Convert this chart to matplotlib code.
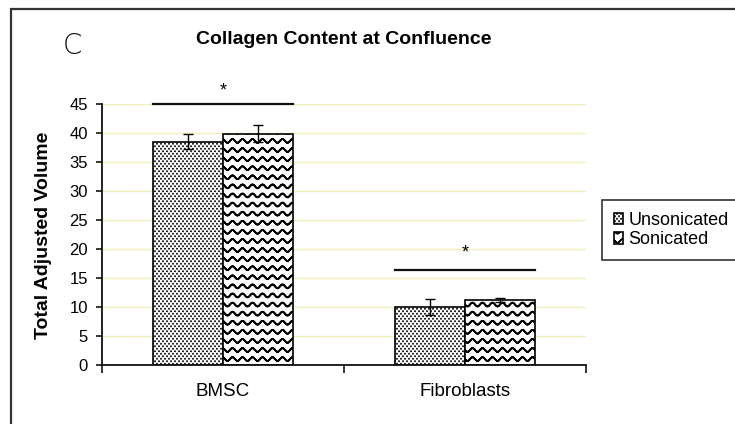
import warnings
import numpy as np
import matplotlib
matplotlib.use('Agg')
import matplotlib.pyplot as plt
import matplotlib.hatch as mhatch
from matplotlib.path import Path
from matplotlib.patches import Rectangle

warnings.filterwarnings('ignore')

# ---------------- data ----------------
categories = ['BMSC', 'Fibroblasts']
series_names = ['Unsonicated', 'Sonicated']
unsonicated = [38.5, 10.0]
unsonicated_err = [1.3, 1.3]
sonicated = [39.9, 11.2]
sonicated_err = [1.4, 0.4]
sig_levels = [45.0, 16.4]
sig_marks = ['*', '*']
yticks = [0, 5, 10, 15, 20, 25, 30, 35, 40, 45]
title = 'Collagen Content at Confluence'
ylabel = 'Total Adjusted Volume'
panel_label = 'C'


# ---------------- custom hatches ----------------
class WaveHatch(mhatch.HatchPatternBase):
    rows, periods, seg = 11, 10, 10

    def __init__(self, hatch, density):
        self.on = hatch.count('w') > 0
        n = self.periods * self.seg + 1
        self.num_vertices = self.rows * (2 * n - 1) if self.on else 0

    def set_vertices_and_codes(self, vertices, codes):
        n = self.periods * self.seg + 1
        x = np.linspace(0, 1, n)
        amp = 0.019
        y0 = np.sin(2 * np.pi * self.periods * x) * amp
        xs = np.concatenate([x, x[-2::-1]])
        ys = np.concatenate([y0, y0[-2::-1]])
        m = 2 * n - 1
        for r in range(self.rows):
            yc = (r + 0.5) / self.rows
            vertices[r * m:(r + 1) * m, 0] = xs
            vertices[r * m:(r + 1) * m, 1] = yc + ys
            codes[r * m] = Path.MOVETO
            codes[r * m + 1:(r + 1) * m] = Path.LINETO


class DotHatch(mhatch.HatchPatternBase):
    cols, rows = 25, 40

    def __init__(self, hatch, density):
        self.on = hatch.count('d') > 0
        circ = Path.unit_circle()
        self.sv = circ.vertices
        self.sc = circ.codes
        self.num_vertices = self.cols * self.rows * len(self.sv) if self.on else 0

    def set_vertices_and_codes(self, vertices, codes):
        k = len(self.sv)
        rad = 0.0035
        i = 0
        for row in range(self.rows):
            yy = (row + 0.5) / self.rows
            off = 0.5 if row % 2 else 0.0
            for c in range(self.cols):
                xx = (c + 0.25 + off) / self.cols
                vertices[i:i + k] = self.sv * rad + [xx, yy]
                codes[i:i + k] = self.sc
                i += k


mhatch._hatch_types.append(WaveHatch)
mhatch._hatch_types.append(DotHatch)

# ---------------- figure ----------------
plt.rcParams['font.family'] = ['Liberation Sans', 'DejaVu Sans']
W, H = 735, 424
fig = plt.figure(figsize=(7.35, 4.24), dpi=100)
ax = fig.add_axes([102 / W, 59 / H, 484 / W, 261 / H])

x = np.arange(len(categories))
bw = 0.29

with plt.rc_context({'hatch.linewidth': 0.9}):
    b1 = ax.bar(x - bw / 2, unsonicated, bw, color='white', edgecolor='black',
                linewidth=1.2, hatch='d', label=series_names[0], zorder=2)
with plt.rc_context({'hatch.linewidth': 1.3}):
    b2 = ax.bar(x + bw / 2, sonicated, bw, color='white', edgecolor='black',
                linewidth=1.2, hatch='w', label=series_names[1], zorder=2)

ax.errorbar(x - bw / 2, unsonicated, yerr=unsonicated_err, fmt='none',
            ecolor='black', elinewidth=1, capsize=3.5, capthick=1, zorder=3)
ax.errorbar(x + bw / 2, sonicated, yerr=sonicated_err, fmt='none',
            ecolor='black', elinewidth=1, capsize=3.5, capthick=1, zorder=3)

star_offsets = [3, 6]
for i, (lvl, mk) in enumerate(zip(sig_levels, sig_marks)):
    ax.plot([x[i] - bw, x[i] + bw], [lvl, lvl], color='#111111', lw=1.6,
            clip_on=False, zorder=4)
    ax.annotate(mk, xy=(x[i], lvl), xytext=(0, star_offsets[i]),
                textcoords='offset points', ha='center', va='bottom',
                fontsize=13, annotation_clip=False)

ax.set_xlim(-0.5, len(categories) - 0.5)
ax.set_ylim(0, 45)
ax.set_yticks(yticks)
ax.set_yticklabels([str(t) for t in yticks], fontsize=12)
ax.set_xticks(np.arange(len(categories) + 1) - 0.5)
ax.set_xticklabels([])
ax.set_xticks(x, minor=True)
ax.set_xticklabels(categories, minor=True, fontsize=13.5)
ax.tick_params(axis='x', which='major', length=6, width=1.1, direction='out')
ax.tick_params(axis='x', which='minor', length=0, pad=13)
ax.tick_params(axis='y', length=4, width=1.1, pad=6, direction='out')

for s in ['top', 'right']:
    ax.spines[s].set_visible(False)
for s in ['left', 'bottom']:
    ax.spines[s].set_linewidth(1.3)
    ax.spines[s].set_color('#111111')

ax.set_axisbelow(True)
ax.yaxis.grid(True, color='#f2efb8', lw=1.0)

fig.text(344 / W, 1 - 44 / H, title, ha='center', va='baseline',
         fontsize=14, fontweight='bold')
fig.text(44 / W, 1 - 235 / H, ylabel, ha='center', va='center',
         rotation=90, fontsize=14, fontweight='bold')
fig.text(72 / W, 1 - 46 / H, panel_label, ha='center', va='center',
         fontsize=20, family=['DejaVu Sans'], fontweight='light', color='#111111')

leg = ax.legend(loc='upper left', bbox_to_anchor=(602 / W, 1 - 200 / H),
                bbox_transform=fig.transFigure, borderaxespad=0, fontsize=13,
                frameon=True, fancybox=False, edgecolor='black',
                handlelength=0.5, handleheight=0.6, handletextpad=0.3,
                labelspacing=0.15, borderpad=0.65)
leg.get_frame().set_linewidth(1.2)

fig.patches.append(Rectangle((11 / W, -0.1), 1.2, 1.1 - 9 / H,
                             transform=fig.transFigure, fill=False,
                             edgecolor='#333333', lw=1.6))

fig.savefig('out.png', dpi=100)
